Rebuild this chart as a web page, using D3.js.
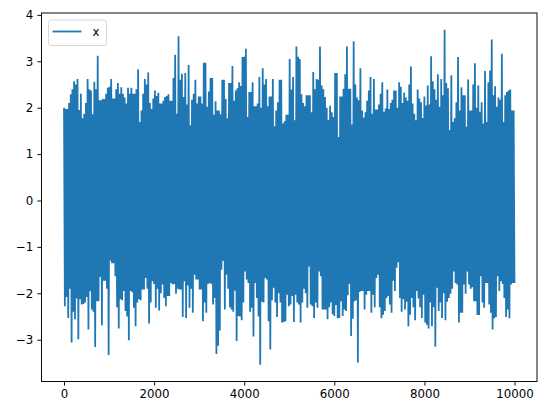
<!DOCTYPE html>
<html><head><meta charset="utf-8">
<script src="https://cdn.jsdelivr.net/npm/d3@7"></script>
<style>html,body{margin:0;padding:0;background:#fff;}svg{display:block;font-family:"DejaVu Sans",sans-serif;}</style>
</head><body>
<script>
// Series "x": 10000 samples. The picture is a dense band, so its upper and lower
// envelope were read column by column (two readings per ~75 samples each).
const seriesName = "x";
const nSamples = 10000;
const upperPeaks = [2.00,1.97,2.29,2.57,2.62,2.30,1.87,2.62,2.37,2.56,3.12,2.16,2.19,2.43,2.62,2.20,2.53,2.44,2.22,2.43,2.43,2.30,2.83,1.94,2.62,2.76,1.97,2.37,2.32,2.09,2.23,2.29,
2.15,3.14,3.54,2.73,2.75,2.92,2.17,2.60,2.24,2.09,2.97,2.35,2.64,2.14,1.94,2.60,2.19,2.53,2.90,2.37,2.55,3.09,3.27,2.34,2.55,2.03,2.66,2.85,2.62,2.24,2.62,1.94,2.60,1.66,1.85,3.05,2.66,
3.32,3.05,2.10,2.27,2.27,2.77,2.62,3.32,2.40,2.00,2.04,1.80,2.75,2.24,2.41,3.32,2.41,3.43,2.22,2.85,1.79,2.15,2.66,2.62,1.96,2.30,1.91,2.39,2.10,2.37,2.00,2.45,2.33,2.15,2.89,1.87,2.39,
2.12,2.24,2.48,3.11,2.40,2.72,2.62,3.68,2.42,2.70,1.77,3.09,2.44,2.27,2.61,1.94,2.96,2.48,2.12,2.79,2.55,3.47,2.46,2.22,3.16,2.27,2.37,1.94];
const upperBetween = [1.97,2.10,2.40,2.50,1.95,1.77,2.10,2.40,1.86,2.40,2.16,2.19,2.30,2.45,2.20,2.40,2.30,2.30,2.09,2.30,2.30,2.40,1.69,2.30,2.50,2.10,2.20,2.25,2.09,2.15,2.25,2.15,
2.64,1.87,2.60,2.23,2.07,1.62,2.30,2.09,2.24,2.97,2.02,2.64,1.85,1.94,1.86,2.60,1.77,2.53,2.15,2.42,2.47,3.10,1.80,2.34,2.03,2.09,2.00,2.50,2.03,2.24,1.60,2.12,2.60,1.71,1.85,2.39,
1.73,3.10,2.29,2.03,2.27,1.90,2.40,2.60,2.48,2.23,1.74,1.90,2.75,1.37,2.24,2.72,2.41,1.64,2.50,2.16,1.94,1.90,2.37,1.87,1.96,2.07,2.55,1.98,1.97,2.17,2.37,2.55,2.10,2.22,2.50,2.09,1.73,
2.20,1.78,2.05,2.07,2.57,2.17,2.02,2.27,2.53,1.52,1.69,2.12,1.94,2.27,1.59,1.94,2.50,2.00,1.91,1.66,1.69,2.80,2.27,2.02,2.17,1.69,2.34,2.39,1.94];
const lowerPeaks = [-2.28,-2.53,-3.06,-2.56,-2.99,-2.24,-2.20,-2.78,-2.35,-3.16,-2.17,-2.69,-1.73,-3.33,-1.35,-1.63,-2.76,-2.15,-2.38,-3.01,-1.98,-2.71,-2.13,-1.92,-1.67,-2.65,-1.74,-2.31,-2.37,-1.81,-2.28,-2.06,
-1.81,-2.01,-1.92,-2.51,-2.53,-2.31,-2.42,-1.70,-1.92,-2.60,-2.42,-1.78,-2.24,-3.31,-2.80,-1.30,-1.60,-2.30,-2.40,-3.03,-2.50,-2.20,-1.70,-2.40,-2.93,-2.10,-3.54,-2.20,-1.70,-3.21,-1.88,-2.51,-2.20,-2.62,-2.03,-2.24,
-2.62,-2.20,-2.63,-1.90,-2.31,-2.24,-2.53,-2.31,-1.63,-2.35,-2.56,-2.20,-2.49,-2.54,-2.17,-2.35,-2.04,-2.92,-2.17,-3.49,-1.95,-2.35,-1.95,-2.42,-2.30,-1.60,-2.54,-2.38,-2.06,-2.42,-1.95,-1.33,-2.40,-2.35,-2.71,-2.10,-2.58,
-2.11,-2.53,-2.63,-2.76,-2.71,-3.15,-2.38,-2.53,-2.58,-2.10,-1.90,-1.78,-2.63,-2.42,-2.01,-1.81,-1.87,-2.17,-2.47,-2.20,-1.78,-2.24,-2.78,-2.51,-1.95,-1.80,-2.51,-2.54,-1.78];
const lowerBetween = [-2.08,-1.90,-2.40,-2.11,-2.13,-2.23,-2.08,-1.95,-2.40,-2.17,-1.65,-1.73,-1.90,-1.30,-1.35,-2.30,-2.13,-1.95,-2.50,-1.95,-2.31,-2.20,-2.15,-1.92,-1.90,-2.20,-1.80,-1.90,-2.00,-2.10,-2.06,-1.78,
-1.80,-1.90,-1.92,-1.74,-1.83,-1.90,-1.60,-1.70,-1.92,-2.20,-1.80,-1.80,-2.10,-3.13,-1.49,-2.35,-1.90,-2.35,-1.94,-2.49,-2.58,-1.53,-1.78,-2.31,-1.78,-2.50,-2.18,-1.67,-2.60,-2.15,-2.20,-2.00,-2.63,-2.60,-2.28,-2.06,
-2.03,-2.24,-2.20,-2.00,-1.42,-2.28,-2.20,-1.53,-2.35,-2.35,-2.30,-2.45,-2.25,-2.53,-2.49,-2.38,-1.80,-2.55,-2.15,-1.97,-1.95,-2.03,-1.95,-2.03,-1.67,-2.30,-2.46,-2.10,-2.24,-1.73,-1.45,-2.10,-2.13,-2.18,-2.46,-2.30,-1.95,
-2.30,-2.03,-2.68,-2.20,-2.30,-1.88,-2.20,-2.00,-2.18,-2.01,-1.53,-1.81,-2.42,-1.81,-1.53,-1.90,-2.17,-2.47,-1.63,-2.31,-1.78,-2.42,-2.54,-1.63,-1.74,-2.10,-2.35,-1.81,-1.78];
const xTicks = [0,2000,4000,6000,8000,10000];
const yTicks = [-3,-2,-1,0,1,2,3,4];

const W = 546, H = 416;
const m = {left:41.5, right:537, top:13, bottom:381.5};
const color = "#1f77b4";

// interleave readings into one alternating line: high, low, high, low ...
const upper = [], lower = [];
upperPeaks.forEach((u,k)=>{ upper.push(u, upperBetween[k]); lower.push(lowerPeaks[k], lowerBetween[k]); });
const step = (nSamples-1)/(upper.length-0.5);
const data = [];
upper.forEach((u,j)=>{
  data.push([j*step, u]);
  data.push([(j+0.5)*step, lower[j]]);
});

const xMin = 0, xMax = nSamples-1;
const xPad = (xMax-xMin)*0.05;
const yMin = d3.min(lower), yMax = d3.max(upper);
const yPad = (yMax-yMin)*0.05;
const x = d3.scaleLinear().domain([xMin-xPad, xMax+xPad]).range([m.left, m.right]);
const y = d3.scaleLinear().domain([yMin-yPad, yMax+yPad]).range([m.bottom, m.top]);

const svg = d3.select("body").append("svg").attr("width",W).attr("height",H);
svg.append("rect").attr("width",W).attr("height",H).attr("fill","#fff");

svg.append("defs").append("clipPath").attr("id","clip").append("rect")
  .attr("x",m.left).attr("y",m.top).attr("width",m.right-m.left).attr("height",m.bottom-m.top);

svg.append("path").datum(data)
  .attr("clip-path","url(#clip)")
  .attr("fill","none").attr("stroke",color).attr("stroke-width",1.8)
  .attr("stroke-linejoin","miter").attr("stroke-miterlimit",2)
  .attr("d", d3.line().x(d=>x(d[0])).y(d=>y(d[1])));

const fs = 11.8, tl = 4.1, tp = 4.1;
const gx = svg.append("g").attr("transform",`translate(0,${m.bottom})`)
  .call(d3.axisBottom(x).tickValues(xTicks).tickFormat(d3.format("d")).tickSize(tl).tickPadding(tp).tickSizeOuter(0));
const gy = svg.append("g").attr("transform",`translate(${m.left},0)`)
  .call(d3.axisLeft(y).tickValues(yTicks).tickFormat(d3.format("d")).tickSize(tl).tickPadding(tp).tickSizeOuter(0));
[gx,gy].forEach(g=>{
  g.select(".domain").remove();
  g.selectAll(".tick line").attr("stroke","#000").attr("stroke-width",0.95);
  g.selectAll(".tick text").attr("fill","#000").style("font-size",fs+"px").style("font-family","DejaVu Sans");
});

svg.append("rect").attr("x",m.left).attr("y",m.top).attr("width",m.right-m.left).attr("height",m.bottom-m.top)
  .attr("fill","none").attr("stroke","#000").attr("stroke-width",0.95);

// legend
const lg = svg.append("g");
lg.append("rect").attr("x",48.5).attr("y",20).attr("width",58).attr("height",25.5).attr("rx",2.5)
  .attr("fill","#fff").attr("fill-opacity",0.8).attr("stroke","#d6d6d6").attr("stroke-width",0.95);
lg.append("line").attr("x1",52.5).attr("x2",81.5).attr("y1",31.5).attr("y2",31.5)
  .attr("stroke",color).attr("stroke-width",1.8);
lg.append("text").attr("x",92.5).attr("y",36).text(seriesName)
  .style("font-size",fs+"px").style("font-family","DejaVu Sans").attr("fill","#000");
</script>
</body></html>
